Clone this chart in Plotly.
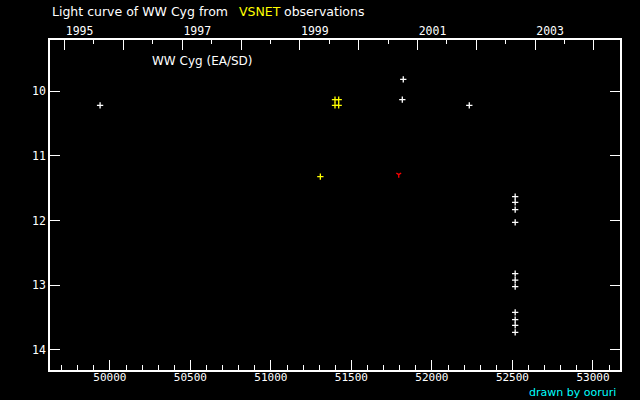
import plotly.graph_objects as go
from datetime import date

# ---- data (JD - 2400000, visual magnitude) ----
white_jd = [49939, 51822, 51816, 52232,
            52517, 52517, 52517, 52517, 52517, 52517, 52517, 52517, 52517, 52517, 52517]
white_mag = [10.22, 9.82, 10.13, 10.22,
             11.63, 11.72, 11.83, 12.03, 12.82, 12.92, 13.02, 13.42, 13.53, 13.62, 13.73]

yellow_jd = [51398, 51421, 51398, 51421, 51307]
yellow_mag = [10.13, 10.13, 10.22, 10.22, 11.32]

red_jd = [51794]
red_mag = [11.29]

bottom_ticks = [50000, 50500, 51000, 51500, 52000, 52500, 53000]
y_ticks = [10, 11, 12, 13, 14]
years = [1995, 1996, 1997, 1998, 1999, 2000, 2001, 2002, 2003, 2004]
year_labels = ["1995", "", "1997", "", "1999", "", "2001", "", "2003", ""]

# ---- layout constants ----
W, H = 640, 400
L, R, T, B = 50, 20, 40, 30
X_RANGE = [49628, 53168]
Y_RANGE = [14.31, 9.21]
FONT = "DejaVu Sans"
MONO = "DejaVu Sans Mono"


def jd_of(y, m=1, d=1):
    return date(y, m, d).toordinal() + 1721424.5 - 2400000


year_jd = [jd_of(y) for y in years]
half_jd = [jd_of(y, 7, 2) for y in [1994] + years]


def px(xp):
    return (xp - L) / (W - L - R)


def py(yp):
    return (H - B - yp) / (H - T - B)


def cross(color):
    return dict(symbol="cross-thin", size=4.5, color=color,
                line=dict(color=color, width=1.3))


fig = go.Figure()
fig.add_trace(go.Scatter(x=white_jd, y=white_mag, mode="markers",
                         marker=cross("white"), showlegend=False))
fig.add_trace(go.Scatter(x=yellow_jd, y=yellow_mag, mode="markers",
                         marker=cross("#ffff00"), showlegend=False))
fig.add_trace(go.Scatter(x=red_jd, y=red_mag, mode="markers",
                         marker=dict(symbol="y-down-open", size=4, color="#ff0000",
                                     line=dict(color="#ff0000", width=1.3)),
                         showlegend=False))
# dummy trace to bind the top (year) axis
fig.add_trace(go.Scatter(x=[X_RANGE[0]], y=[Y_RANGE[0]], mode="markers",
                         marker=dict(opacity=0), xaxis="x2", showlegend=False,
                         hoverinfo="skip"))

fig.update_layout(
    width=W, height=H,
    margin=dict(l=L, r=R, t=T, b=B, pad=0),
    paper_bgcolor="black", plot_bgcolor="black",
    font=dict(family=FONT, size=12, color="white"),
    xaxis=dict(range=X_RANGE, tickmode="array", tickvals=bottom_ticks,
               ticktext=[str(v) for v in bottom_ticks],
               ticks="inside", ticklen=10, tickwidth=1.3, tickcolor="white",
               ticklabelstandoff=-4,
               minor=dict(tickmode="linear", tick0=49600, dtick=100, ticks="inside",
                          ticklen=5, tickwidth=1.3, tickcolor="white", showgrid=False),
               showline=True, linecolor="white", linewidth=1.5, mirror=True,
               showgrid=False, zeroline=False,
               tickfont=dict(family=MONO, size=11, color="white")),
    xaxis2=dict(range=X_RANGE, overlaying="x", side="top", anchor="y",
                tickmode="array", tickvals=year_jd, ticktext=year_labels,
                ticks="inside", ticklen=10, tickwidth=1.3, tickcolor="white",
                ticklabelshift=15, ticklabelstandoff=2,
                minor=dict(tickmode="array", tickvals=half_jd, ticks="inside",
                           ticklen=4, tickwidth=1.3, tickcolor="white", showgrid=False),
                showline=False, showgrid=False, zeroline=False,
                tickfont=dict(family=MONO, size=11.5, color="white")),
    yaxis=dict(range=Y_RANGE, tickmode="array", tickvals=y_ticks,
               ticks="inside", ticklen=10, tickwidth=1.3, tickcolor="white",
               showline=True, linecolor="white", linewidth=1.5, mirror="ticks",
               showgrid=False, zeroline=False,
               tickfont=dict(family=MONO, size=11.5, color="white")),
    annotations=[
        dict(text="Light curve of WW Cyg from", x=px(50), y=py(12),
             xref="paper", yref="paper", xanchor="left", yanchor="middle",
             showarrow=False, font=dict(family=FONT, size=12.5, color="white")),
        dict(text="VSNET", x=px(237), y=py(12),
             xref="paper", yref="paper", xanchor="left", yanchor="middle",
             showarrow=False, font=dict(family=FONT, size=12.5, color="#ffff00")),
        dict(text="observations", x=px(282), y=py(12),
             xref="paper", yref="paper", xanchor="left", yanchor="middle",
             showarrow=False, font=dict(family=FONT, size=12.5, color="white")),
        dict(text="WW Cyg (EA/SD)", x=px(150), y=py(61),
             xref="paper", yref="paper", xanchor="left", yanchor="middle",
             showarrow=False, font=dict(family=FONT, size=12, color="white")),
        dict(text="drawn by ooruri", x=px(618), y=py(392),
             xref="paper", yref="paper", xanchor="right", yanchor="middle",
             showarrow=False, font=dict(family=FONT, size=11, color="#00ffff")),
    ],
)

fig.write_html(
    "out.html",
    config={"displayModeBar": False},
    post_script="document.body.style.margin='0';"
                "document.body.style.background='black';",
)
